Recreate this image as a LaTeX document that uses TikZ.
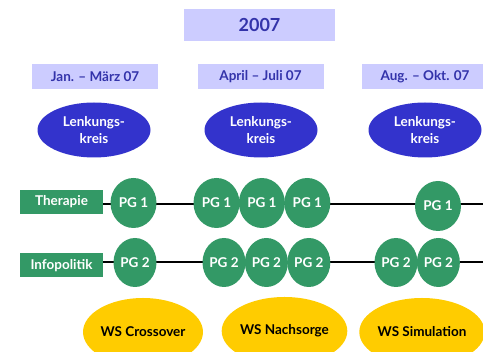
\documentclass[tikz,border=0pt]{standalone}
\usepackage{fontspec}
\setmainfont{Lato}
\usetikzlibrary{positioning, shapes.geometric}
\definecolor{lavender}{HTML}{CCCCFF}
\definecolor{darkblue}{HTML}{3333AA}
\definecolor{boardblue}{HTML}{3333CC}
\definecolor{pggreen}{HTML}{339966}
\definecolor{wsyellow}{HTML}{FFCC00}

\begin{document}
\begin{tikzpicture}[
    x=1pt, y=-1pt,
    font=\bfseries\fontsize{13.5}{17}\selectfont,
    year/.style={rectangle, fill=lavender, text=darkblue, minimum width=151pt, minimum height=32pt, font=\bfseries\fontsize{18}{20}\selectfont},
    period/.style={rectangle, fill=lavender, text=darkblue, minimum width=126pt, minimum height=25pt},
    board/.style={ellipse, fill=boardblue, text=white, minimum width=113pt, minimum height=55pt, inner sep=0pt, align=center},
    track/.style={rectangle, fill=pggreen, text=white, minimum width=83pt, minimum height=24pt},
    pg/.style={ellipse, fill=pggreen, text=white, minimum width=46pt, minimum height=50pt, inner sep=0pt},
    pgb/.style={pg, minimum width=43pt, minimum height=49pt},
    ws/.style={ellipse, fill=wsyellow, minimum width=118pt, minimum height=68pt, inner sep=0pt},
    timeline/.style={draw=black, line width=2pt}
]
    \useasboundingbox (0,0) rectangle (483,352);

    \node[year] (year) at (259.5,25) {2007};

    \node[period] (p1) at (95,76.5) {Jan. -- März 07};
    \node[period] (p2) at (260.5,76.5) {April -- Juli 07};
    \node[period] (p3) at (425,76.5) {Aug. -- Okt. 07};

    \node[board] (lk1) at (94,130) {Lenkungs-\\kreis};
    \node[board] (lk2) at (261,130) {Lenkungs-\\kreis};
    \node[board] (lk3) at (425,130) {Lenkungs-\\kreis};

    % Therapie
    \node[track] (ther) at (61.5,202) {Therapie};
    \coordinate (therend) at (483,204);
    \draw[timeline] (ther.east |- therend) -- (therend);
    \node[pg] (t1) at (133.5,203) {PG 1};
    \node[pg] (t2) at (216.5,203) {PG 1};
    \node[pg, right=-1pt of t2] (t3) {PG 1};
    \node[pg, right=-1pt of t3] (t4) {PG 1};
    \node[pg] (t5) at (438,206) {PG 1};

    % Infopolitik
    \node[track] (info) at (61.5,265.5) {Infopolitik};
    \coordinate (infoend) at (483,262);
    \draw[timeline] (info.east |- infoend) -- (infoend);
    \node[pgb] (i1) at (135,262.5) {PG 2};
    \node[pgb] (i2) at (224,262.5) {PG 2};
    \node[pgb, right=-1pt of i2] (i3) {PG 2};
    \node[pgb, right=-1pt of i3] (i4) {PG 2};
    \node[pgb] (i5) at (396,262.5) {PG 2};
    \node[pgb, right=-1pt of i5] (i6) {PG 2};

    \node[ws] (ws1) at (143,332) {WS Crossover};
    \node[ws] (ws2) at (284.5,331) {WS Nachsorge};
    \node[ws] (ws3) at (422,332) {WS Simulation};
\end{tikzpicture}
\end{document}
